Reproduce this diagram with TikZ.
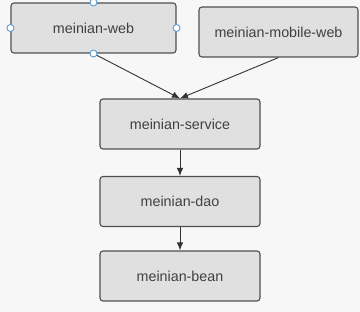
\documentclass[tikz,border=0pt]{standalone}
\usepackage{fontspec}
\setmainfont{Liberation Sans}
\usetikzlibrary{arrows.meta}
\definecolor{bgray}{HTML}{F7F7F7}
\definecolor{boxfill}{HTML}{E0E0E0}
\definecolor{boxline}{HTML}{505050}
\definecolor{txtgray}{HTML}{404040}
\definecolor{handle}{HTML}{5B9BD5}
\begin{document}
\begin{tikzpicture}[x=1pt,y=-1pt,
  module/.style={draw=boxline, fill=boxfill, line width=1.1pt, rounded corners=3pt,
    minimum height=50pt, inner sep=0pt, text=txtgray,
    font=\fontsize{14.3pt}{16pt}\selectfont},
  dep/.style={draw=black!80, line width=0.9pt, -{Latex[length=8pt,width=6.5pt]}},
  grip/.style={draw=handle, fill=white, line width=0.9pt, circle, inner sep=0pt, minimum size=7pt}]
	\useasboundingbox[fill=bgray] (0,0) rectangle (360,312);

	% modules
	\node[module, minimum width=165pt] (web) at (93.5,28) {meinian-web};
	\node[module, minimum width=159pt] (mobile) at (278.5,32) {meinian-mobile-web};
	\node[module, minimum width=160pt] (service) at (180,124) {meinian-service};
	\node[module, minimum width=160pt] (dao) at (180,201.5) {meinian-dao};
	\node[module, minimum width=160pt] (bean) at (180,276) {meinian-bean};

	% dependencies
	\draw[dep] (web.south) -- (service.north);
	\draw[dep] (mobile.south) -- (service.north);
	\draw[dep] (service) -- (dao);
	\draw[dep] (dao) -- (bean);

	% handles on the selected box
	\foreach \a in {north,south,east,west}
		\node[grip] at (web.\a) {};
\end{tikzpicture}
\end{document}
